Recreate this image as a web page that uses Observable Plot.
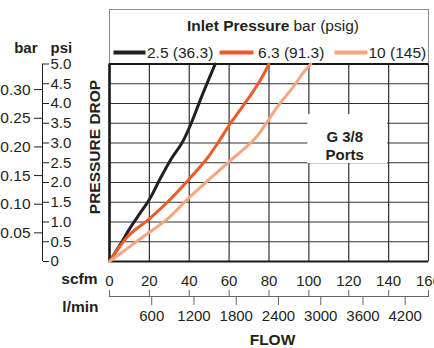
<!DOCTYPE html>
<html><head><meta charset="utf-8">
<script src="https://cdn.jsdelivr.net/npm/d3@7"></script>
<script src="https://cdn.jsdelivr.net/npm/@observablehq/plot@0.6"></script>
<style>body{margin:0;background:#fff}</style>
</head><body><div id="chart"></div>
<script>
// ---- data ----
const scfmTicks = [0, 20, 40, 60, 80, 100, 120, 140, 160];
const psiTicks = [0, 0.5, 1, 1.5, 2, 2.5, 3, 3.5, 4, 4.5, 5];
const barTicks = [0.05, 0.10, 0.15, 0.20, 0.25, 0.30];
const lminTicks = [600, 1200, 1800, 2400, 3000, 3600, 4200];
const seriesNames = ["2.5 (36.3)", "6.3 (91.3)", "10 (145)"];
const flow25 = [0, 5, 10.6, 15, 20, 26, 31, 37, 41, 46, 53];
const drop25 = [0, 0.4, 0.87, 1.2, 1.57, 2.15, 2.6, 3.06, 3.5, 4.15, 5.0];
const flow63 = [0, 8, 20, 29, 40, 50, 55, 60, 66, 72, 76, 80];
const drop63 = [0, 0.57, 1.08, 1.5, 2.09, 2.68, 3.05, 3.45, 3.87, 4.3, 4.62, 5.0];
const flow10 = [0, 10, 20, 30, 40, 50, 60, 70.7, 74, 79, 84, 93.3, 97.3, 101];
const drop10 = [0, 0.37, 0.74, 1.12, 1.62, 2.08, 2.53, 3.0, 3.17, 3.53, 3.9, 4.5, 4.79, 5.0];
const portLabel = "G 3/8\nPorts";

// ---- conversions & layout ----
const PSI_PER_BAR = 14.5038, LMIN_PER_SCFM = 28.3168;
const colors = ["#231f20", "#ee5a28", "#f6a57f"];
const legendY = 5.29;
const legendX1 = [2.0, 55.2, 112.8];
const legendX2 = [18.05, 72.2, 129.4];
const legendTextX = [18.8, 74.5, 129.9];

const rows = [];
[[flow25, drop25], [flow63, drop63], [flow10, drop10]].forEach(([f, d], i) =>
  f.forEach((v, j) => rows.push({series: seriesNames[i], flow: v, drop: d[j]})));
const legendRows = seriesNames.map((s, i) => ({series: s, x1: legendX1[i], x2: legendX2[i], tx: legendTextX[i]}));

const ink = "#231f20";
const lbl = (t, o) => Plot.text([t], {lineAnchor: "middle", fill: ink, ...o});
const chart = Plot.plot({
  width: 434, height: 348,
  marginTop: 9, marginBottom: 87, marginLeft: 109, marginRight: 6,
  style: {fontFamily: "'Liberation Sans', Arial, Helvetica, sans-serif", fontSize: "15px", color: ink, background: "#fff"},
  x: {domain: [0, 160], axis: null},
  y: {domain: [0, 6.38], axis: null},
  color: {domain: seriesNames, range: colors},
  marks: [
    Plot.frame({stroke: "#8a8a8a", strokeWidth: 1}),
    Plot.ruleX(scfmTicks, {y1: 0, y2: 5, stroke: "#333", strokeWidth: 1.2}),
    Plot.ruleY(psiTicks, {stroke: "#333", strokeWidth: 1.2}),
    Plot.ruleY([0, 5], {stroke: "#1a1a1a", strokeWidth: 2}),
    Plot.ruleX([0], {y1: 0, y2: 5, stroke: "#1a1a1a", strokeWidth: 2.6}),
    // port label box
    Plot.rect([portLabel], {x1: 99.5, x2: 139.5, y1: 2.48, y2: 3.72, fill: "#fff"}),
    Plot.text([portLabel], {x: 118, y: 2.94, text: d => d, fontWeight: "bold", fontSize: 15, lineHeight: 1.2, fill: ink}),
    // curves
    Plot.line(rows, {x: "flow", y: "drop", z: "series", stroke: "series", strokeWidth: 3, curve: "monotone-x"}),
    // legend
    lbl("Inlet Pressure", {frameAnchor: "top", dx: 20.5, dy: 16.7, textAnchor: "end", fontWeight: "bold", fontSize: 15.5}),
    lbl("bar (psig)", {frameAnchor: "top", dx: 24.5, dy: 16.7, textAnchor: "start", fontSize: 15.5}),
    Plot.link(legendRows, {x1: "x1", x2: "x2", y1: legendY, y2: legendY, stroke: "series", strokeWidth: 4}),
    Plot.text(legendRows, {x: "tx", y: legendY, text: "series", textAnchor: "start", fontSize: 15.5, fill: ink}),
    // psi / bar axes
    Plot.ruleX([0], {y1: 0, y2: 5, dx: -67, stroke: ink, strokeWidth: 1}),
    Plot.axisY(psiTicks, {anchor: "right", dx: -386, tickSize: 6, tickPadding: 2, fontSize: 15,
      tickFormat: d => d === 0 ? "0" : d.toFixed(1), label: null}),
    Plot.axisY(barTicks.map(b => b * PSI_PER_BAR), {anchor: "left", dx: -67, tickSize: 8, tickPadding: 4, fontSize: 15.5,
      tickFormat: d => (d / PSI_PER_BAR).toFixed(2), label: null}),
    lbl("bar", {frameAnchor: "top-left", dx: -72, dy: 39, textAnchor: "end", fontWeight: "bold", fontSize: 15}),
    lbl("psi", {frameAnchor: "top-left", dx: -59, dy: 39, textAnchor: "start", fontWeight: "bold", fontSize: 15}),
    lbl("PRESSURE DROP", {frameAnchor: "left", rotate: -90, dx: -14, dy: 11.5, textAnchor: "middle", fontWeight: "bold", fontSize: 15.5}),
    // flow axes
    Plot.axisX(scfmTicks, {anchor: "bottom", tickSize: 0, tickPadding: 14, fontSize: 15, tickFormat: d => String(d), label: null}),
    Plot.ruleY([0], {x1: 0, x2: 160, dy: 35, stroke: "#666", strokeWidth: 1}),
    Plot.axisX(scfmTicks, {anchor: "top", dy: 287, tickSize: 7, stroke: "#666", tickFormat: () => "", label: null}),
    Plot.axisX(lminTicks.map(v => v / LMIN_PER_SCFM), {anchor: "bottom", dy: 35, tickSize: 9, tickPadding: 5, fontSize: 15,
      stroke: "#666", tickFormat: d => String(Math.round(d * LMIN_PER_SCFM)), label: null}),
    lbl("scfm", {frameAnchor: "bottom-left", dx: -12, dy: 18, textAnchor: "end", fontWeight: "bold", fontSize: 15.5}),
    lbl("l/min", {frameAnchor: "bottom-left", dx: -11, dy: 46, textAnchor: "end", fontWeight: "bold", fontSize: 15.5}),
    lbl("FLOW", {frameAnchor: "bottom", dx: 3.5, dy: 79, textAnchor: "middle", fontWeight: "bold", fontSize: 15.5})
  ]
});
document.getElementById("chart").appendChild(chart);
</script>
</body></html>
